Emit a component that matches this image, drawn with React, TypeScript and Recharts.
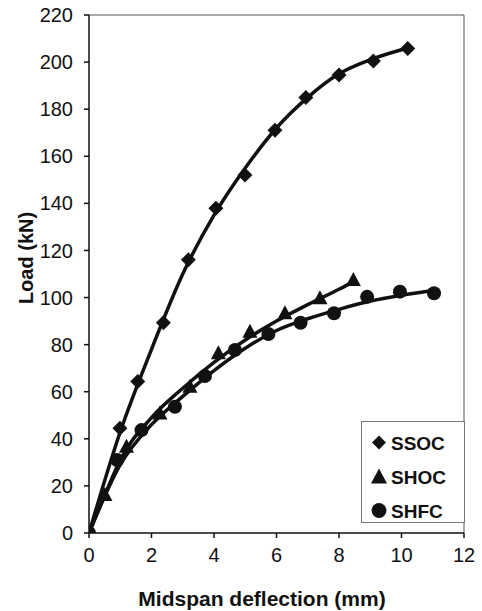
import {
  ComposedChart,
  Legend,
  Line,
  ReferenceLine,
  Scatter,
  XAxis,
  YAxis,
} from "recharts";

// measured points
const ssocDefl = [0, 0.99, 1.56, 2.38, 3.18, 4.06, 4.99, 5.95, 6.94, 8.0, 9.1, 10.2];
const ssocLoad = [0, 44.5, 64.3, 89.3, 116, 137.9, 152, 171, 185, 194.5, 200.5, 205.8];

const shocDefl = [0, 0.51, 1.2, 2.27, 3.23, 4.14, 5.15, 6.27, 7.39, 8.46];
const shocLoad = [0, 16.1, 36.6, 50.8, 62.1, 76.3, 85.5, 93.3, 99.7, 107.4];

const shfcDefl = [0, 0.9, 1.68, 2.75, 3.71, 4.67, 5.74, 6.77, 7.84, 8.9, 9.95, 11.04];
const shfcLoad = [0, 31, 43.7, 53.6, 66.7, 77.7, 84.5, 89.3, 93.3, 100.3, 102.5, 101.8];

// trend lines
const ssocFitDefl = [0, 1, 2, 3, 4, 5, 6, 7, 8, 9, 10.2];
const ssocFitLoad = [0, 43, 78, 110, 135, 155, 172, 185, 195, 201, 206];

const shocFitDefl = [0, 0.5, 1, 2, 3, 4, 5, 6, 7, 8, 8.5];
const shocFitLoad = [0, 16, 31, 49, 61.5, 72.5, 82, 90, 97, 103.5, 107];

const shfcFitDefl = [0, 1, 2, 3, 4, 5, 6, 7, 8, 9, 10, 11];
const shfcFitLoad = [0, 29, 46, 58, 69, 78.5, 86, 91, 95, 98.5, 101, 103];

const xTicks = [0, 2, 4, 6, 8, 10, 12];
const yTicks = [0, 20, 40, 60, 80, 100, 120, 140, 160, 180, 200, 220];

const toPts = (xs: number[], ys: number[]) => xs.map((x, i) => ({ x, y: ys[i] }));

const FONT = '"Liberation Sans", Arial, sans-serif';
const INK = "#111";

function Diamond({ cx, cy }: any) {
  const r = 7.5;
  return (
    <polygon
      points={`${cx},${cy - r} ${cx + r},${cy} ${cx},${cy + r} ${cx - r},${cy}`}
      fill={INK}
    />
  );
}

function Triangle({ cx, cy }: any) {
  return (
    <polygon
      points={`${cx},${cy - 8} ${cx + 7.5},${cy + 6} ${cx - 7.5},${cy + 6}`}
      fill={INK}
    />
  );
}

function Dot({ cx, cy }: any) {
  return <circle cx={cx} cy={cy} r={7} fill={INK} />;
}

const legendNames = ["SSOC", "SHOC", "SHFC"];

function LegendBox() {
  return (
    <svg width={104} height={102} style={{ display: "block" }}>
      <rect x={0.5} y={0.5} width={103} height={101} fill="#fff" stroke="#777" />
      {legendNames.map((name, i) => {
        const cy = 21.5 + i * 34;
        const cx = 18;
        return (
          <g key={name}>
            {i === 0 && (
              <polygon points={`${cx},${cy - 7} ${cx + 7},${cy} ${cx},${cy + 7} ${cx - 7},${cy}`} fill={INK} />
            )}
            {i === 1 && (
              <polygon points={`${cx},${cy - 8} ${cx + 8},${cy + 7} ${cx - 8},${cy + 7}`} fill={INK} />
            )}
            {i === 2 && <circle cx={cx} cy={cy} r={7.5} fill={INK} />}
            <text
              x={30}
              y={cy + 7}
              fontFamily={FONT}
              fontWeight="bold"
              fontSize={19}
              fill={INK}
            >
              {name}
            </text>
          </g>
        );
      })}
    </svg>
  );
}

export default function App() {
  return (
    <div style={{ position: "absolute", left: 0, top: 0, background: "#fff" }}>
      <ComposedChart
        width={482}
        height={611}
        margin={{ top: 15, right: 18, bottom: 0, left: 0 }}
        style={{ fontFamily: FONT }}
      >
        <XAxis
          type="number"
          dataKey="x"
          domain={[0, 12]}
          ticks={xTicks}
          allowDataOverflow
          height={78}
          tickSize={5}
          tickMargin={10}
          stroke={INK}
          strokeWidth={1.5}
          tick={{ fill: INK, fontSize: 20 }}
          label={{
            content: () => (
              <text
                x={262}
                y={606}
                textAnchor="middle"
                fontFamily={FONT}
                fontWeight="bold"
                fontSize={21}
                fill={INK}
              >
                Midspan deflection (mm)
              </text>
            ),
          }}
        />
        <YAxis
          type="number"
          dataKey="y"
          domain={[0, 220]}
          ticks={yTicks}
          allowDataOverflow
          width={89}
          tickSize={5}
          tickMargin={11}
          stroke={INK}
          strokeWidth={1.5}
          tick={{ fill: INK, fontSize: 20 }}
          label={{
            content: () => (
              <text
                x={0}
                y={0}
                transform="translate(33 258) rotate(-90)"
                textAnchor="middle"
                fontFamily={FONT}
                fontWeight="bold"
                fontSize={20}
                fill={INK}
              >
                Load (kN)
              </text>
            ),
          }}
        />
        <ReferenceLine y={220} stroke="#555" strokeWidth={1} />
        <ReferenceLine x={12} stroke="#555" strokeWidth={1} />

        <Line data={toPts(ssocFitDefl, ssocFitLoad)} dataKey="y" type="monotone" stroke={INK} strokeWidth={3.5} dot={false} isAnimationActive={false} legendType="none" />
        <Line data={toPts(shocFitDefl, shocFitLoad)} dataKey="y" type="monotone" stroke={INK} strokeWidth={3.5} dot={false} isAnimationActive={false} legendType="none" />
        <Line data={toPts(shfcFitDefl, shfcFitLoad)} dataKey="y" type="monotone" stroke={INK} strokeWidth={3.5} dot={false} isAnimationActive={false} legendType="none" />

        <Scatter name="SSOC" data={toPts(ssocDefl, ssocLoad)} shape={Diamond} isAnimationActive={false} />
        <Scatter name="SHOC" data={toPts(shocDefl, shocLoad)} shape={Triangle} isAnimationActive={false} />
        <Scatter name="SHFC" data={toPts(shfcDefl, shfcLoad)} shape={Dot} isAnimationActive={false} />

        <Legend
          layout="vertical"
          align="center"
          verticalAlign="middle"
          content={() => <LegendBox />}
          wrapperStyle={{ left: 361, top: 421, width: 104, height: 102 }}
        />
      </ComposedChart>
    </div>
  );
}
